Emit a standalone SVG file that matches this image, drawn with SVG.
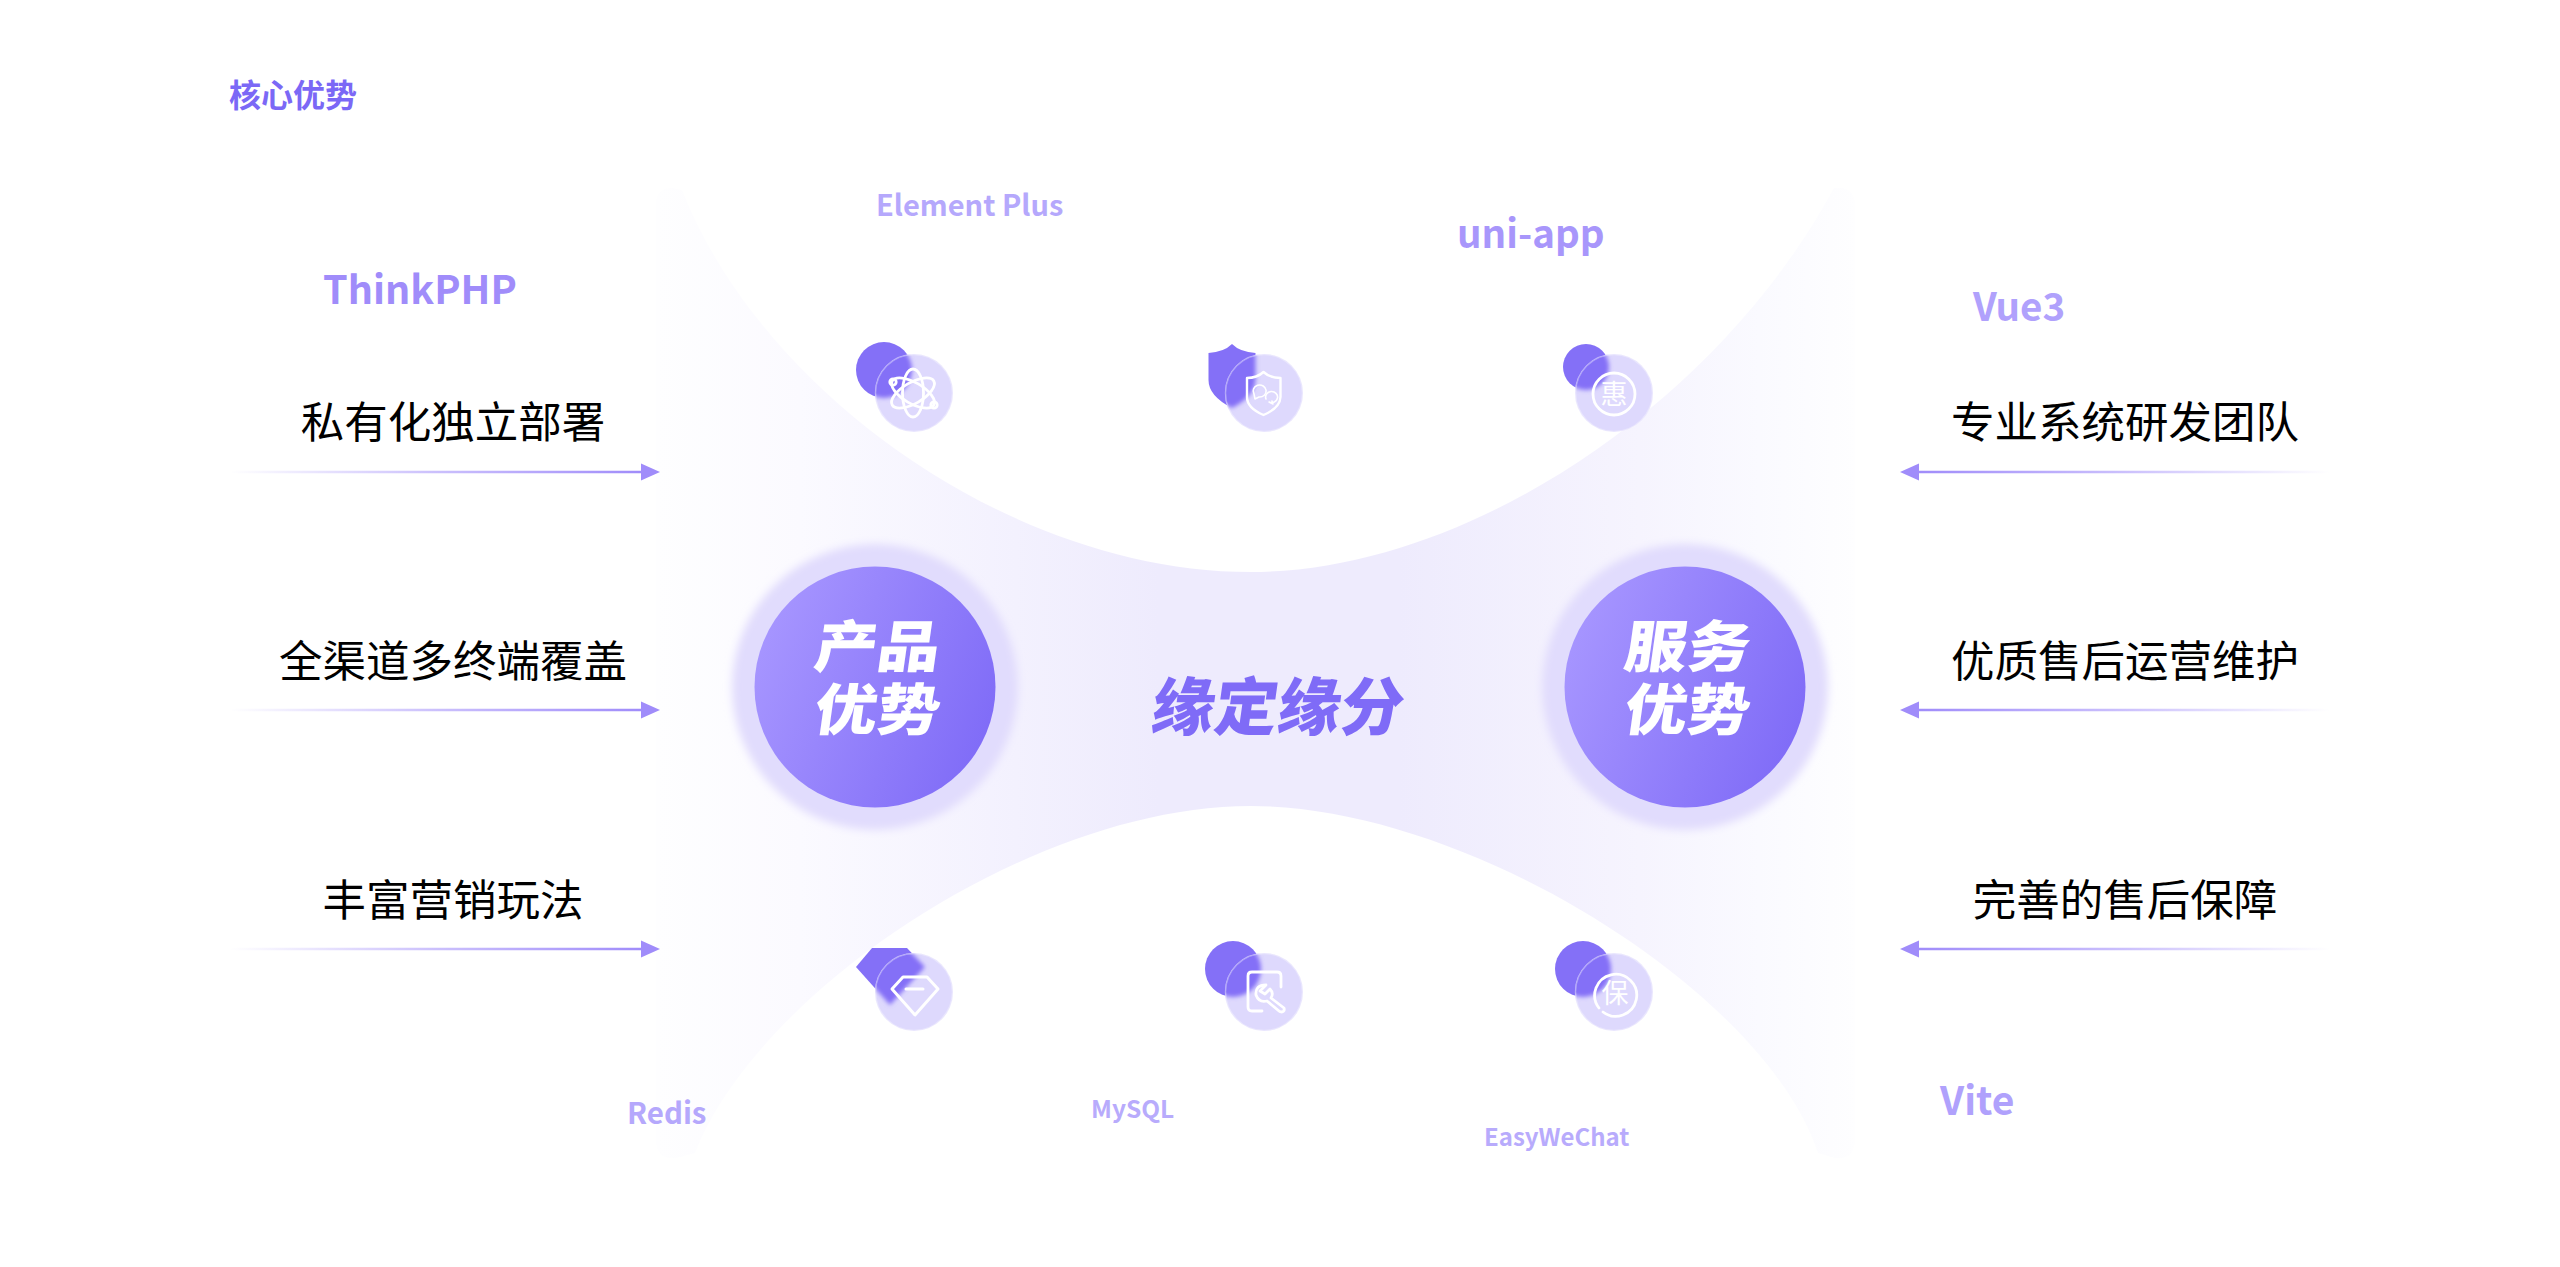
<svg xmlns="http://www.w3.org/2000/svg" width="2560" height="1267" viewBox="0 0 2560 1267">
<style>
text{font-family:"Noto Sans CJK SC","Noto Sans",sans-serif}
.lab{font-size:43.5px;fill:#000;text-anchor:middle}
.tech{font-weight:700}
.disc{fill:url(#discFill)}
.halo{fill:#e1dcfd;filter:url(#b5)}
.big{font-weight:900;font-size:56px;fill:#fff;text-anchor:middle}
.front{fill:#ded9fd}
.edge{fill:none;stroke:#fff;stroke-opacity:.35;stroke-width:1.5}
.back{fill:#8470f7}
.ico{fill:none;stroke:#fff;stroke-width:2.8;stroke-linecap:round;stroke-linejoin:round}
.gl{fill:#fff;text-anchor:middle;font-size:27px}
.arr{stroke-width:2.6;fill:none}
</style>
<defs>
<linearGradient id="band" gradientUnits="userSpaceOnUse" x1="656" y1="0" x2="1855" y2="0">
<stop offset="0" stop-color="#fefeff"/><stop offset=".12" stop-color="#fbfaff"/><stop offset=".3" stop-color="#f3f1fe"/><stop offset=".42" stop-color="#eeebfd"/><stop offset=".62" stop-color="#eeebfd"/><stop offset=".82" stop-color="#f6f4fe"/><stop offset=".92" stop-color="#fafaff"/><stop offset="1" stop-color="#fefeff"/>
</linearGradient>
<linearGradient id="discFill" x1="0" y1=".3" x2="1" y2=".7"><stop offset="0" stop-color="#a796ff"/><stop offset="1" stop-color="#7f6bf7"/></linearGradient>
<linearGradient id="fl" gradientUnits="userSpaceOnUse" x1="230" y1="0" x2="642" y2="0"><stop offset="0" stop-color="#a08cfa" stop-opacity="0"/><stop offset=".5" stop-color="#a08cfa" stop-opacity=".55"/><stop offset="1" stop-color="#a08cfa"/></linearGradient>
<linearGradient id="fr" gradientUnits="userSpaceOnUse" x1="2330" y1="0" x2="1918" y2="0"><stop offset="0" stop-color="#a08cfa" stop-opacity="0"/><stop offset=".5" stop-color="#a08cfa" stop-opacity=".55"/><stop offset="1" stop-color="#a08cfa"/></linearGradient>
<marker id="head" markerUnits="userSpaceOnUse" markerWidth="20" markerHeight="18" refX="0" refY="9" orient="auto"><path d="M0 .5L19 9L0 17.5Z" fill="#a08cfa"/></marker>
<filter id="b5" x="-20%" y="-20%" width="140%" height="140%"><feGaussianBlur stdDeviation="4"/></filter>
<filter id="b3" x="-30%" y="-30%" width="160%" height="160%"><feGaussianBlur stdDeviation="2.2"/></filter>
<clipPath id="c1"><circle cx="914" cy="393" r="39"/></clipPath>
<clipPath id="c2"><circle cx="1264" cy="393" r="39"/></clipPath>
<clipPath id="c3"><circle cx="1614" cy="393" r="39"/></clipPath>
<clipPath id="c4"><circle cx="914" cy="992" r="39"/></clipPath>
<clipPath id="c5"><circle cx="1264" cy="992" r="39"/></clipPath>
<clipPath id="c6"><circle cx="1614" cy="992" r="39"/></clipPath>
</defs>
<rect width="2560" height="1267" fill="#fff"/>
<path id="hourglass" fill="url(#band)" d="M656 204Q656 188 672 188L682 190C760 390 1010 572 1251 572C1470 572 1720 400 1834 188Q1855 186 1855 206L1855 1140Q1855 1160 1835 1158L1818 1153C1766 994 1470 806 1251 806C1030 806 756 994 695 1153L676 1158Q656 1160 656 1140Z"/>

<text id="title" x="229" y="107" font-size="32" font-weight="700" fill="#7b68f6">核心优势</text>

<g id="connectors">
<path class="arr" stroke="url(#fl)" d="M230 472H641" marker-end="url(#head)"/>
<path class="arr" stroke="url(#fl)" d="M230 710H641" marker-end="url(#head)"/>
<path class="arr" stroke="url(#fl)" d="M230 949H641" marker-end="url(#head)"/>
<path class="arr" stroke="url(#fr)" d="M2330 472H1919" marker-end="url(#head)"/>
<path class="arr" stroke="url(#fr)" d="M2330 710H1919" marker-end="url(#head)"/>
<path class="arr" stroke="url(#fr)" d="M2330 949H1919" marker-end="url(#head)"/>
</g>

<g id="label-left-1"><text class="lab" x="453" y="437.500">私有化独立部署</text></g>
<g id="label-left-2"><text class="lab" x="453" y="676.500">全渠道多终端覆盖</text></g>
<g id="label-left-3"><text class="lab" x="453" y="915.500">丰富营销玩法</text></g>
<g id="label-right-1"><text class="lab" x="2125" y="437.500">专业系统研发团队</text></g>
<g id="label-right-2"><text class="lab" x="2125" y="676.500">优质售后运营维护</text></g>
<g id="label-right-3"><text class="lab" x="2125" y="915.500">完善的售后保障</text></g>

<g id="tech-labels">
<text class="tech" x="323" y="304" font-size="39.500" fill="#a08cfa">ThinkPHP</text>
<text class="tech" x="876" y="216" font-size="29" fill="#b5a8fc">Element Plus</text>
<text class="tech" x="1457" y="248" font-size="38.500" fill="#a896fb">uni-app</text>
<text class="tech" x="1973" y="321" font-size="38.500" fill="#b0a1fc">Vue3</text>
<text class="tech" x="627" y="1124" font-size="29.500" fill="#b5a8fc">Redis</text>
<text class="tech" x="1091" y="1118" font-size="24.500" fill="#b8abfc">MySQL</text>
<text class="tech" x="1484" y="1146" font-size="24" fill="#b8abfc">EasyWeChat</text>
<text class="tech" x="1940" y="1115" font-size="39" fill="#b0a1fc">Vite</text>
</g>

<g id="node-product">
<circle class="halo" cx="875" cy="687" r="143"/>
<circle class="disc" cx="875" cy="687" r="120.500"/>
<text class="big" transform="translate(875 667) skewX(-8) scale(1.12 1)">产品</text>
<text class="big" transform="translate(875 730) skewX(-8) scale(1.12 1)">优势</text>
</g>
<g id="node-service">
<circle class="halo" cx="1685" cy="687" r="143"/>
<circle class="disc" cx="1685" cy="687" r="120.500"/>
<text class="big" transform="translate(1685 667) skewX(-8) scale(1.12 1)">服务</text>
<text class="big" transform="translate(1685 730) skewX(-8) scale(1.12 1)">优势</text>
</g>
<g id="node-center">
<text transform="translate(1275 730) skewX(-8)" font-size="63" font-weight="900" fill="#7f6bf7" text-anchor="middle">缘定缘分</text>
</g>

<g id="icon-1">
<circle class="back" cx="884" cy="370" r="28"/>
<circle class="front" cx="914" cy="393" r="39"/>
<g clip-path="url(#c1)"><circle class="back" cx="884" cy="370" r="28" filter="url(#b3)"/></g>
<circle class="edge" cx="914" cy="393" r="38.500"/>
<g class="ico"><ellipse cx="913" cy="393" rx="10.500" ry="24"/><ellipse cx="913" cy="393" rx="10.500" ry="24" transform="rotate(60 913 393)"/><ellipse cx="913" cy="393" rx="10.500" ry="24" transform="rotate(-60 913 393)"/><circle cx="893" cy="382" r="3.200"/><circle cx="934" cy="405" r="3.200"/></g>
</g>
<g id="icon-2">
<path class="back" d="M1208.500 353Q1224 352 1232 344Q1240 352 1255.500 353V380Q1255 396 1232 408Q1208.500 396 1208.500 380Z"/>
<circle class="front" cx="1264" cy="393" r="39"/>
<g clip-path="url(#c2)"><path class="back" filter="url(#b3)" d="M1208.500 353Q1224 352 1232 344Q1240 352 1255.500 353V380Q1255 396 1232 408Q1208.500 396 1208.500 380Z"/></g>
<circle class="edge" cx="1264" cy="393" r="38.500"/>
<g class="ico" style="stroke-width:2.400"><path d="M1247 378Q1257 378 1263.500 372Q1270 378 1280.500 378V397Q1280 408 1263.500 415Q1247 408 1247 397Z"/><path stroke-width="1.600" style="stroke-width:1.600" d="M1254 394A6.500 6 0 1 1 1259 397L1255 399Z"/><path style="stroke-width:1.600" d="M1266 399A6 5.500 0 1 1 1269 402L1273 404L1272 401"/></g>
</g>
<g id="icon-3">
<circle class="back" cx="1586" cy="367" r="23"/>
<circle class="front" cx="1614" cy="393" r="39"/>
<g clip-path="url(#c3)"><circle class="back" cx="1586" cy="367" r="23" filter="url(#b3)"/></g>
<circle class="edge" cx="1614" cy="393" r="38.500"/>
<circle class="ico" cx="1614" cy="394" r="21"/>
<text class="gl" x="1614" y="404">惠</text>
</g>
<g id="icon-4">
<path class="back" d="M856 967L872 948H907L925 967L890 1005Z"/>
<circle class="front" cx="914" cy="992" r="39"/>
<g clip-path="url(#c4)"><path class="back" filter="url(#b3)" d="M856 967L872 948H907L925 967L890 1005Z"/></g>
<circle class="edge" cx="914" cy="992" r="38.500"/>
<g class="ico" style="stroke-width:3"><path d="M892 989L903 977H927L938 989L915 1015Z"/><path d="M906 989H923"/></g>
</g>
<g id="icon-5">
<circle class="back" cx="1233" cy="969" r="28"/>
<circle class="front" cx="1264" cy="992" r="39"/>
<g clip-path="url(#c5)"><circle class="back" cx="1233" cy="969" r="28" filter="url(#b3)"/></g>
<circle class="edge" cx="1264" cy="992" r="38.500"/>
<g class="ico"><path d="M1281 987V976Q1281 972 1277 972H1252Q1248 972 1248 976V1007Q1248 1011 1252 1011H1262"/><path d="M1266 985L1260 991L1265 994L1270 989Q1274 993 1271 998L1284 1008Q1285 1011 1282 1012Q1280 1012 1279 1011L1267 1001Q1259 1003 1256 995Q1255 985 1266 985Z"/></g>
</g>
<g id="icon-6">
<circle class="back" cx="1583" cy="969" r="28"/>
<circle class="front" cx="1614" cy="992" r="39"/>
<g clip-path="url(#c6)"><circle class="back" cx="1583" cy="969" r="28" filter="url(#b3)"/></g>
<circle class="edge" cx="1614" cy="992" r="38.500"/>
<path class="ico" d="M1603 1012A21 21 0 1 0 1599 1008"/>
<text class="gl" x="1615" y="1003">保</text>
</g>
</svg>
